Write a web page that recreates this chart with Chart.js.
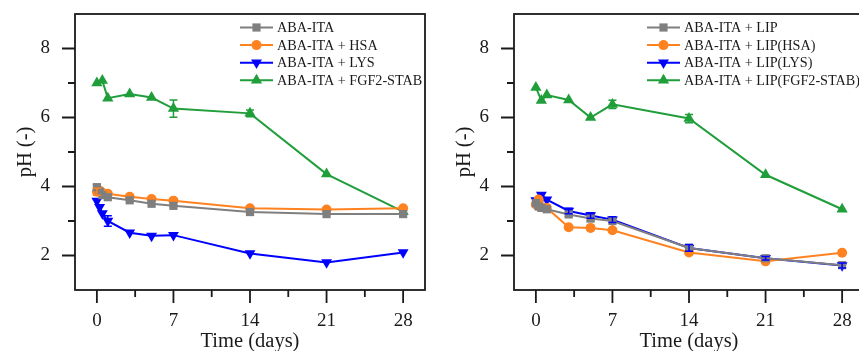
<!DOCTYPE html>
<html><head><meta charset="utf-8">
<script src="https://cdn.jsdelivr.net/npm/chart.js@4/dist/chart.umd.min.js"></script>
<style>
html,body{margin:0;padding:0;background:#fff;overflow:hidden;width:859px;height:351px;}
#c1{position:absolute;left:0;top:0;}
#c2{position:absolute;left:439px;top:0;}
</style></head><body>
<canvas id="c1" width="430" height="351"></canvas>
<canvas id="c2" width="430" height="351"></canvas>
<script>
// ---- data ----
const days = [0, 0.25, 0.5, 1, 3, 5, 7, 14, 21, 28];
const xTickValues = [0, 7, 14, 21, 28];
const xMinorValues = [3.5, 10.5, 17.5, 24.5];
const yTickValues = [2, 4, 6, 8];
const yMinorValues = [3, 5, 7];

const leftNames = ['ABA-ITA', 'ABA-ITA + HSA', 'ABA-ITA + LYS', 'ABA-ITA + FGF2-STAB'];
const leftAbaIta = [3.98, 3.85, 3.75, 3.69, 3.60, 3.50, 3.44, 3.26, 3.20, 3.20];
const leftHsa    = [3.85, 3.88, 3.82, 3.79, 3.70, 3.64, 3.59, 3.37, 3.33, 3.37];
const leftLys    = [3.58, 3.40, 3.22, 3.00, 2.66, 2.57, 2.59, 2.06, 1.80, 2.09];
const leftFgf2   = [7.00, null, 7.07, 6.56, 6.68, 6.58, 6.26, 6.12, 4.36, 3.27];
const leftAbaItaErr = [0.08, null, null, null, null, null, null, null, null, null];
const leftHsaErr    = [0.10, null, null, null, null, null, null, null, null, null];
const leftLysErr    = [null, null, null, 0.15, null, null, null, null, null, null];
const leftFgf2Err   = [null, null, null, null, null, null, 0.25, 0.10, null, null];

const rightNames = ['ABA-ITA + LIP', 'ABA-ITA + LIP(HSA)', 'ABA-ITA + LIP(LYS)', 'ABA-ITA + LIP(FGF2-STAB)'];
const rightLip     = [3.52, 3.42, 3.38, 3.34, 3.19, 3.07, 3.00, 2.22, 1.92, 1.72];
const rightLipHsa  = [3.48, 3.62, 3.40, 3.38, 2.82, 2.80, 2.73, 2.09, 1.83, 2.08];
const rightLipLys  = [3.60, 3.50, 3.76, 3.62, 3.29, 3.16, 3.04, 2.22, 1.92, 1.71];
const rightLipFgf2 = [6.87, null, 6.49, 6.65, 6.51, 6.00, 6.38, 5.97, 4.34, 3.34];
const rightLipErr     = [null, null, null, null, 0.06, 0.06, null, null, null, null];
const rightLipHsaErr  = [null, null, null, null, null, null, null, null, null, null];
const rightLipLysErr  = [null, null, null, null, 0.08, 0.08, 0.08, 0.10, 0.05, 0.07];
const rightLipFgf2Err = [null, null, null, null, null, null, 0.12, 0.12, null, null];

// ---- styles ----
const colors = ['#7f7f7f', '#ff8221', '#0000ff', '#1f9e3a'];
const styles = [
  {pointStyle: 'rect', pointRadius: 5.8, rotation: 0},
  {pointStyle: 'circle', pointRadius: 5, rotation: 0},
  {pointStyle: 'triangle', pointRadius: 6.3, rotation: 180},
  {pointStyle: 'triangle', pointRadius: 6.5, rotation: 0}
];
const FONT = '"Liberation Serif", "Times New Roman", serif';
const INK = '#1a1a1a';

function toPoints(vals) {
  return days.map((d, i) => ({x: d, y: vals[i]}));
}

function drawMarker(ctx, style, color, x, y) {
  const r = style.pointRadius;
  ctx.fillStyle = color;
  ctx.beginPath();
  if (style.pointStyle === 'rect') {
    const s = Math.SQRT1_2 * r;
    ctx.rect(x - s, y - s, 2 * s, 2 * s);
  } else if (style.pointStyle === 'circle') {
    ctx.arc(x, y, r, 0, Math.PI * 2);
  } else {
    let rad = style.rotation * Math.PI / 180;
    ctx.moveTo(x + Math.sin(rad) * r, y - Math.cos(rad) * r);
    rad += 2 * Math.PI / 3;
    ctx.lineTo(x + Math.sin(rad) * r, y - Math.cos(rad) * r);
    rad += 2 * Math.PI / 3;
    ctx.lineTo(x + Math.sin(rad) * r, y - Math.cos(rad) * r);
    ctx.closePath();
  }
  ctx.fill();
}

const framePlugin = {
  id: 'frame',
  beforeDatasetsDraw(chart) {
    const {ctx, chartArea: a, scales} = chart;
    ctx.save();
    ctx.strokeStyle = INK;
    ctx.lineWidth = 1.8;
    ctx.strokeRect(a.left, a.top, a.right - a.left, a.bottom - a.top);
    ctx.beginPath();
    xTickValues.forEach(v => { const p = scales.x.getPixelForValue(v); ctx.moveTo(p, a.bottom); ctx.lineTo(p, a.bottom + 13); });
    xMinorValues.forEach(v => { const p = scales.x.getPixelForValue(v); ctx.moveTo(p, a.bottom); ctx.lineTo(p, a.bottom + 7); });
    yTickValues.forEach(v => { const p = scales.y.getPixelForValue(v); ctx.moveTo(a.left - 13, p); ctx.lineTo(a.left, p); });
    yMinorValues.forEach(v => { const p = scales.y.getPixelForValue(v); ctx.moveTo(a.left - 7, p); ctx.lineTo(a.left, p); });
    ctx.stroke();
    ctx.restore();
  }
};

const errorPlugin = {
  id: 'errbars',
  afterDatasetsDraw(chart, args, opts) {
    const {ctx, scales} = chart;
    ctx.save();
    ctx.lineWidth = 1.5;
    chart.data.datasets.forEach((ds, i) => {
      const errs = opts.errors[i];
      ctx.strokeStyle = ds.borderColor;
      ds.data.forEach((pt, j) => {
        const e = errs[j];
        if (e == null || pt.y == null) return;
        const x = scales.x.getPixelForValue(pt.x);
        const y1 = scales.y.getPixelForValue(pt.y - e);
        const y2 = scales.y.getPixelForValue(pt.y + e);
        ctx.beginPath();
        ctx.moveTo(x, y1); ctx.lineTo(x, y2);
        ctx.moveTo(x - 4, y1); ctx.lineTo(x + 4, y1);
        ctx.moveTo(x - 4, y2); ctx.lineTo(x + 4, y2);
        ctx.stroke();
      });
    });
    ctx.restore();
  }
};

const legendPlugin = {
  id: 'insideLegend',
  afterDraw(chart, args, opts) {
    const {ctx} = chart;
    ctx.save();
    chart.data.datasets.forEach((ds, i) => {
      const y = opts.y0 + i * opts.dy;
      ctx.strokeStyle = ds.borderColor;
      ctx.lineWidth = 2;
      ctx.beginPath();
      ctx.moveTo(opts.x, y); ctx.lineTo(opts.x + 33, y);
      ctx.stroke();
      drawMarker(ctx, styles[i], ds.borderColor, opts.x + 16.5, y);
      ctx.fillStyle = INK;
      ctx.font = '14.2px ' + FONT;
      ctx.textAlign = 'left';
      ctx.textBaseline = 'middle';
      ctx.fillText(ds.label, opts.x + 37, y + 1);
    });
    ctx.restore();
  }
};

function makeChart(id, names, series, errors, legendX) {
  const datasets = series.map((vals, i) => ({
    label: names[i],
    data: toPoints(vals),
    showLine: true,
    spanGaps: true,
    borderColor: colors[i],
    backgroundColor: colors[i],
    borderWidth: 2,
    pointStyle: styles[i].pointStyle,
    pointRadius: styles[i].pointRadius,
    pointRotation: styles[i].rotation,
    pointBorderWidth: 0,
    pointBackgroundColor: colors[i],
    tension: 0
  }));
  return new Chart(document.getElementById(id), {
    type: 'scatter',
    data: {datasets},
    plugins: [framePlugin, errorPlugin, legendPlugin],
    options: {
      responsive: false,
      devicePixelRatio: 1,
      animation: false,
      events: [],
      layout: {autoPadding: false, padding: {top: 14, right: 5, bottom: 0, left: 0}},
      plugins: {
        legend: {display: false},
        tooltip: {enabled: false},
        errbars: {errors},
        insideLegend: {x: legendX, y0: 27.5, dy: 17.6}
      },
      scales: {
        x: {
          type: 'linear', min: -2, max: 30,
          afterBuildTicks: s => { s.ticks = xTickValues.map(v => ({value: v})); },
          afterFit: s => { s.height = 61; s.paddingLeft = 0; s.paddingRight = 0; s.paddingTop = 0; s.paddingBottom = 0; },
          grid: {display: false, drawTicks: false},
          border: {display: false},
          ticks: {font: {family: FONT, size: 19}, color: INK, padding: 20, maxRotation: 0, autoSkip: false},
          title: {display: true, text: 'Time (days)', font: {family: FONT, size: 20.5}, color: INK, padding: {top: 0, bottom: -3}}
        },
        y: {
          type: 'linear', min: 1, max: 9,
          afterBuildTicks: s => { s.ticks = yTickValues.map(v => ({value: v})); },
          afterFit: s => { s.width = 75; s.paddingLeft = 0; s.paddingRight = 0; s.paddingTop = 0; s.paddingBottom = 0; },
          grid: {display: false, drawTicks: false},
          border: {display: false},
          ticks: {font: {family: FONT, size: 19}, color: INK, padding: 25},
          title: {display: true, text: 'pH (-)', font: {family: FONT, size: 20.5}, color: INK, padding: {top: 13, bottom: 0}}
        }
      }
    }
  });
}

makeChart('c1', leftNames, [leftAbaIta, leftHsa, leftLys, leftFgf2],
  [leftAbaItaErr, leftHsaErr, leftLysErr, leftFgf2Err], 240);
makeChart('c2', rightNames, [rightLip, rightLipHsa, rightLipLys, rightLipFgf2],
  [rightLipErr, rightLipHsaErr, rightLipLysErr, rightLipFgf2Err], 208);
</script>
</body></html>
